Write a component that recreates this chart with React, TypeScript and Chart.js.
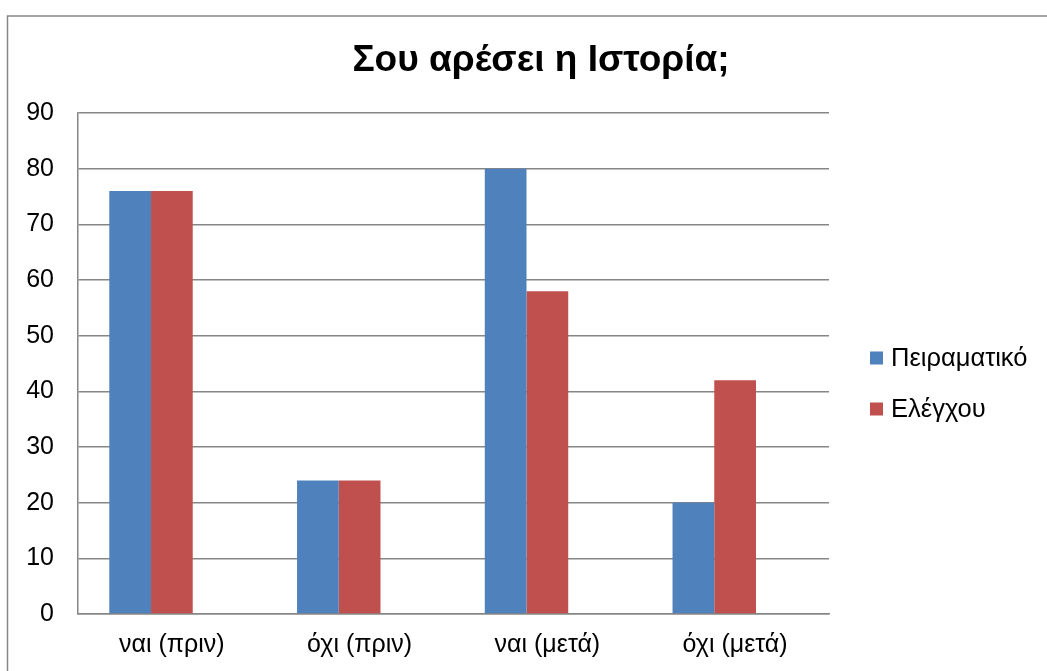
import React, { useEffect, useRef } from "react";
import { Chart, registerables } from "chart.js";

Chart.register(...registerables);

const categories = ["ναι (πριν)", "όχι (πριν)", "ναι (μετά)", "όχι (μετά)"];
const seriesNames = ["Πειραματικό", "Ελέγχου"];
const experimental = [76, 24, 80, 20];
const control = [76, 24, 58, 42];
const emptySeries = [null, null, null, null];
const title = "Σου αρέσει η Ιστορία;";
const colors = ["#4F81BD", "#C0504D"];

const FONT = '"Liberation Sans", Arial, sans-serif';

const framePlugin = {
  id: "frame",
  beforeDraw(chart: any) {
    const ctx = chart.ctx;
    ctx.save();
    ctx.fillStyle = "#ffffff";
    ctx.fillRect(0, 0, chart.width, chart.height);
    ctx.strokeStyle = "#868686";
    ctx.lineWidth = 1.5;
    ctx.strokeRect(7.5, 16, chart.width + 30, chart.height + 30);
    ctx.restore();
  },
  afterDraw(chart: any) {
    const ctx = chart.ctx;
    ctx.save();
    ctx.fillStyle = "#000000";
    ctx.font = `bold 37px ${FONT}`;
    ctx.textAlign = "center";
    ctx.textBaseline = "middle";
    ctx.fillText(title, 541, 61);
    // legend
    ctx.font = `25.5px ${FONT}`;
    ctx.textAlign = "left";
    const ds = chart.data.datasets.filter((d: any) => d.label);
    const ys = [358, 409];
    ds.forEach((d: any, i: number) => {
      const y = ys[i];
      ctx.fillStyle = d.backgroundColor;
      ctx.fillRect(870, y - 6.5, 13, 13);
      ctx.fillStyle = "#000000";
      ctx.fillText(d.label, 891, y + 1);
    });
    ctx.restore();
  },
};

export default function App() {
  const ref = useRef<HTMLCanvasElement | null>(null);
  useEffect(() => {
    if (!ref.current) return;
    const chart = new Chart(ref.current, {
      type: "bar",
      data: {
        labels: categories,
        datasets: [
          { label: seriesNames[0], data: experimental, backgroundColor: colors[0] },
          { label: seriesNames[1], data: control, backgroundColor: colors[1] },
          { label: "", data: emptySeries, backgroundColor: "rgba(0,0,0,0)" },
        ],
      },
      options: {
        responsive: false,
        animation: false,
        maintainAspectRatio: false,
        layout: { padding: { top: 113, right: 218, left: 0, bottom: 0 } },
        datasets: { bar: { categoryPercentage: 0.6667, barPercentage: 1 } },
        plugins: {
          legend: { display: false },
          title: { display: false },
          tooltip: { enabled: false },
        },
        scales: {
          x: {
            grid: { display: false, drawTicks: false },
            border: { display: true, color: "#868686", width: 1.5 },
            ticks: { color: "#000", font: { family: FONT, size: 25 }, padding: 16, maxRotation: 0 },
            afterFit: (s: any) => { s.height = 57; },
          },
          y: {
            min: 0,
            max: 90,
            ticks: { stepSize: 10, color: "#000", font: { family: FONT, size: 25 }, padding: 24 },
            grid: { color: "#868686", lineWidth: 1.5, drawTicks: false },
            border: { display: true, color: "#868686", width: 1.5 },
            afterFit: (s: any) => { s.width = 78; },
          },
        },
      },
      plugins: [framePlugin],
    } as any);
    return () => chart.destroy();
  }, []);
  return (
    <canvas
      ref={ref}
      width={1047}
      height={671}
      style={{ position: "fixed", left: 0, top: 0, width: 1047, height: 671 }}
    />
  );
}
